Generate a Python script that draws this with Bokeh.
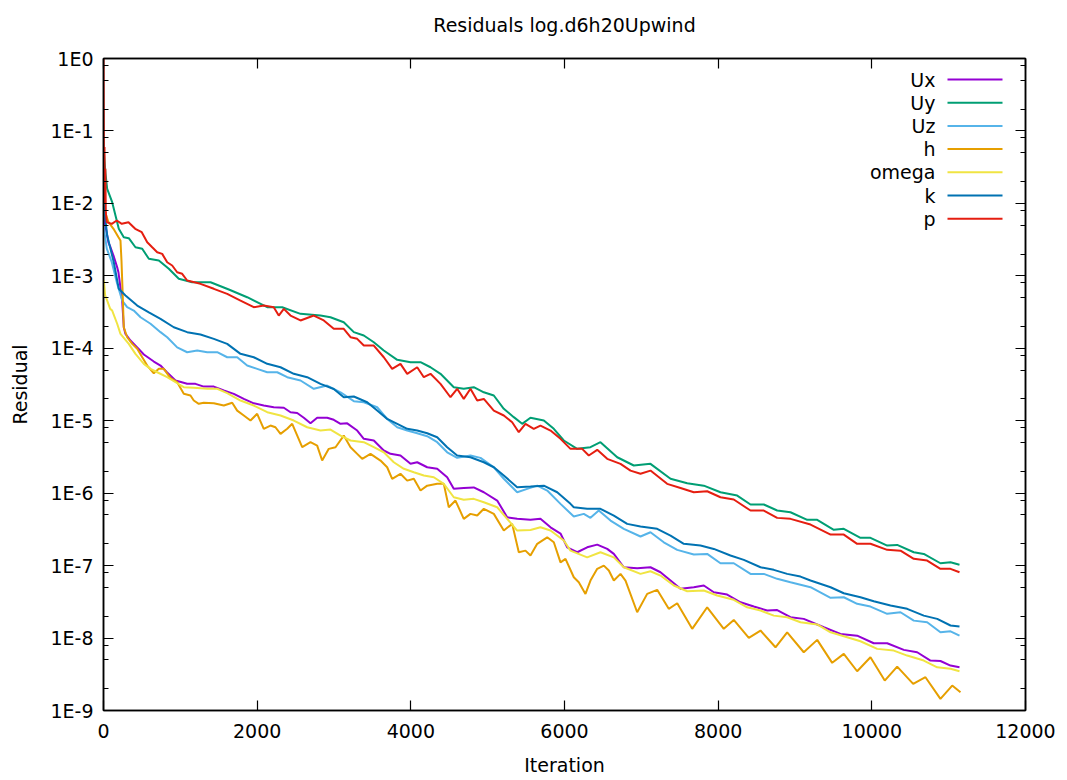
from bokeh.plotting import figure
from bokeh.models import (Range1d, FixedTicker, LinearAxis, LogAxis,
                          CustomJSTickFormatter, Label, BoxAnnotation)
from bokeh.embed import file_html
from bokeh.resources import INLINE

FONT = "DejaVu Sans"
FS = "19px"

title_text = "Residuals log.d6h20Upwind"
x_label = "Iteration"
y_label = "Residual"
x_ticks = [0, 2000, 4000, 6000, 8000, 10000, 12000]
y_ticks = [1.0, 1e-1, 1e-2, 1e-3, 1e-4, 1e-5, 1e-6, 1e-7, 1e-8, 1e-9]
y_tick_labels = ["1E0", "1E-1", "1E-2", "1E-3", "1E-4", "1E-5", "1E-6", "1E-7", "1E-8", "1E-9"]
y_minor_mantissas = [2, 5, 8]
series_names = ["Ux", "Uy", "Uz", "h", "omega", "k", "p"]
series_colors = ["#9400d3", "#009e73", "#56b4e9", "#e69f00", "#f0e442", "#0072b2", "#e51e10"]

# (iteration, residual) pairs
ux = [(0, 6.8e-3), (65, 2.88e-3), (91, 2.48e-3), (130, 1.91e-3), (178, 1.31e-3), (195, 1.11e-3),
      (243, 4.56e-4), (264, 1.95e-4), (286, 1.58e-4), (351, 1.28e-4), (439, 1.03e-4), (525, 8.2e-5),
      (655, 6.56e-5), (742, 5.78e-5), (829, 4.63e-5), (937, 3.59e-5), (1089, 3.23e-5), (1197, 3.23e-5),
      (1305, 2.96e-5), (1436, 2.96e-5), (1566, 2.61e-5), (1696, 2.35e-5), (1826, 2.0e-5), (1956, 1.74e-5),
      (2086, 1.62e-5), (2216, 1.535e-5), (2347, 1.51e-5), (2434, 1.31e-5), (2521, 1.28e-5), (2607, 1.1e-5),
      (2694, 9.23e-6), (2781, 1.1e-5), (2911, 1.1e-5), (2997, 1.03e-5), (3085, 9.06e-6), (3172, 9.2e-6),
      (3302, 7.32e-6), (3388, 5.62e-6), (3518, 5.33e-6), (3648, 3.88e-6), (3735, 3.49e-6), (3865, 3.31e-6),
      (3996, 2.54e-6), (4083, 2.67e-6), (4213, 2.28e-6), (4343, 2.17e-6), (4473, 1.66e-6), (4559, 1.147e-6),
      (4689, 1.18e-6), (4819, 1.2e-6), (4950, 1.03e-6), (5124, 7.91e-7), (5254, 4.65e-7), (5384, 4.42e-7),
      (5557, 4.28e-7), (5687, 4.42e-7), (5818, 3.38e-7), (5948, 2.77e-7), (6035, 1.79e-7), (6165, 1.53e-7),
      (6295, 1.79e-7), (6426, 1.95e-7), (6556, 1.7e-7), (6642, 1.45e-7), (6772, 9.49e-8), (6946, 9.19e-8),
      (7119, 9.49e-8), (7249, 8.1e-8), (7380, 6.22e-8), (7510, 4.78e-8), (7683, 5.03e-8), (7813, 5.31e-8),
      (7943, 4.29e-8), (8117, 3.99e-8), (8291, 3.12e-8), (8464, 2.72e-8), (8638, 2.4e-8), (8768, 2.43e-8),
      (8941, 1.94e-8), (9114, 1.84e-8), (9375, 1.41e-8), (9592, 1.14e-8), (9809, 1.08e-8), (10025, 8.48e-9),
      (10200, 8.48e-9), (10416, 6.87e-9), (10590, 6.37e-9), (10763, 4.89e-9), (10893, 4.82e-9),
      (11024, 4.17e-9), (11141, 3.95e-9)]

uy = [(0, 0.06), (26, 0.0258), (48, 0.0159), (113, 0.0104), (156, 0.0068), (199, 0.00446), (264, 0.00341),
      (329, 0.00331), (416, 0.00248), (504, 0.00236), (590, 0.00172), (720, 0.00163), (850, 0.00125),
      (980, 0.00091), (1154, 8.16e-4), (1393, 8.16e-4), (1631, 6.47e-4), (1870, 5.07e-4), (2131, 3.69e-4),
      (2326, 3.69e-4), (2564, 2.99e-4), (2824, 2.83e-4), (2954, 2.68e-4), (3127, 2.29e-4), (3258, 1.67e-4),
      (3388, 1.5e-4), (3518, 1.21e-4), (3648, 9.31e-5), (3823, 6.93e-5), (3996, 6.42e-5), (4126, 6.42e-5),
      (4256, 5.47e-5), (4386, 4.44e-5), (4559, 2.9e-5), (4689, 2.76e-5), (4819, 2.9e-5), (4950, 2.47e-5),
      (5080, 2.23e-5), (5210, 1.46e-5), (5340, 1.12e-5), (5449, 9.06e-6), (5557, 1.1e-5), (5731, 1.006e-5),
      (5861, 7.73e-6), (5991, 5.33e-6), (6165, 4.09e-6), (6338, 4.31e-6), (6468, 5.05e-6), (6686, 3.13e-6),
      (6902, 2.41e-6), (7119, 2.54e-6), (7380, 1.58e-6), (7597, 1.37e-6), (7813, 1.27e-6), (8030, 1.03e-6),
      (8248, 9.27e-7), (8421, 6.97e-7), (8594, 6.97e-7), (8768, 5.76e-7), (8941, 5.45e-7), (9159, 4.28e-7),
      (9289, 4.28e-7), (9505, 3.12e-7), (9635, 3.22e-7), (9852, 2.42e-7), (9982, 2.42e-7), (10200, 1.89e-7),
      (10330, 1.93e-7), (10546, 1.53e-7), (10676, 1.45e-7), (10893, 1.078e-7), (11024, 1.11e-7),
      (11141, 1.03e-7)]

uz = [(0, 4.95e-3), (43, 2.38e-3), (108, 1.54e-3), (178, 7.76e-4), (243, 4.56e-4), (308, 3.69e-4),
      (394, 3.32e-4), (482, 2.68e-4), (612, 2.18e-4), (742, 1.67e-4), (829, 1.42e-4), (959, 1.03e-4),
      (1089, 8.82e-5), (1220, 9.31e-5), (1350, 8.82e-5), (1480, 8.82e-5), (1610, 7.52e-5), (1740, 7.52e-5),
      (1870, 5.78e-5), (2000, 5.2e-5), (2131, 4.67e-5), (2261, 4.67e-5), (2391, 3.99e-5), (2564, 3.59e-5),
      (2737, 2.76e-5), (2911, 3.06e-5), (3085, 2.47e-5), (3258, 1.86e-5), (3388, 1.8e-5), (3562, 1.535e-5),
      (3692, 1.06e-5), (3823, 8.13e-6), (3953, 7.32e-6), (4083, 6.72e-6), (4213, 6.11e-6), (4343, 5.05e-6),
      (4473, 3.67e-6), (4603, 3.07e-6), (4776, 3.31e-6), (4907, 3.07e-6), (5080, 2.28e-6), (5210, 1.58e-6),
      (5384, 1.03e-6), (5515, 1.147e-6), (5645, 1.27e-6), (5775, 1.087e-6), (5948, 7.12e-7), (6121, 4.76e-7),
      (6251, 5.18e-7), (6338, 4.56e-7), (6446, 5.76e-7), (6599, 4.19e-7), (6772, 3.22e-7), (6989, 2.52e-7),
      (7119, 2.89e-7), (7292, 2.1e-7), (7467, 1.65e-7), (7683, 1.42e-7), (7857, 1.45e-7), (8030, 1.078e-7),
      (8203, 1.078e-7), (8421, 7.69e-8), (8594, 7.69e-8), (8768, 6.57e-8), (8941, 5.89e-8), (9202, 5.03e-8),
      (9463, 3.59e-8), (9635, 3.66e-8), (9809, 2.97e-8), (9982, 2.72e-8), (10200, 2.16e-8), (10373, 2.27e-8),
      (10546, 1.74e-8), (10720, 1.65e-8), (10893, 1.2e-8), (11024, 1.24e-8), (11141, 1.08e-8)]

h = [(22, 7.55e-3), (65, 5.5e-3), (130, 4.46e-3), (195, 3.41e-3), (221, 3.07e-3), (234, 1.63e-3),
     (247, 6.68e-4), (264, 1.95e-4), (308, 1.42e-4), (374, 1.15e-4), (439, 9.83e-5), (504, 7.52e-5),
     (569, 5.78e-5), (655, 4.52e-5), (720, 5.2e-5), (785, 5.2e-5), (872, 3.88e-5), (959, 3.4e-5),
     (1045, 2.35e-5), (1132, 2.23e-5), (1175, 1.9e-5), (1240, 1.71e-5), (1305, 1.77e-5), (1436, 1.74e-5),
     (1566, 1.62e-5), (1675, 1.77e-5), (1740, 1.38e-5), (1826, 1.18e-5), (1913, 1.006e-5), (2000, 1.245e-5),
     (2086, 7.73e-6), (2173, 8.58e-6), (2238, 8.13e-6), (2304, 6.59e-6), (2391, 7.73e-6), (2456, 9.06e-6),
     (2586, 4.31e-6), (2694, 5.05e-6), (2781, 4.54e-6), (2846, 2.82e-6), (2932, 4.09e-6), (3020, 4.31e-6),
     (3127, 6.24e-6), (3215, 4.31e-6), (3302, 3.49e-6), (3367, 2.98e-6), (3475, 3.49e-6), (3605, 2.82e-6),
     (3692, 2.28e-6), (3757, 1.58e-6), (3865, 1.85e-6), (3953, 1.49e-6), (4039, 1.58e-6), (4126, 1.087e-6),
     (4213, 1.27e-6), (4343, 1.345e-6), (4429, 1.345e-6), (4494, 6.39e-7), (4581, 7.91e-7), (4689, 4.42e-7),
     (4776, 5.18e-7), (4864, 4.91e-7), (4950, 6.08e-7), (5080, 5.18e-7), (5210, 3.05e-7), (5319, 3.77e-7),
     (5405, 1.53e-7), (5492, 1.61e-7), (5557, 1.38e-7), (5645, 2.0e-7), (5775, 2.46e-7), (5861, 2.1e-7),
     (5948, 1.11e-7), (6013, 1.24e-7), (6121, 6.91e-8), (6186, 5.89e-8), (6273, 4.07e-8), (6338, 6.22e-8),
     (6426, 9.02e-8), (6512, 1.0e-7), (6577, 8.55e-8), (6642, 6.22e-8), (6729, 7.69e-8), (6794, 6.22e-8),
     (6946, 2.27e-8), (7076, 4.07e-8), (7206, 4.63e-8), (7357, 2.53e-8), (7467, 3.02e-8), (7662, 1.34e-8),
     (7857, 2.66e-8), (8073, 1.34e-8), (8203, 1.78e-8), (8399, 1.006e-8), (8551, 1.27e-8), (8746, 7.46e-9),
     (8898, 1.2e-8), (9114, 6.37e-9), (9289, 9.44e-9), (9484, 4.55e-9), (9635, 6.05e-9), (9809, 3.48e-9),
     (9982, 5.43e-9), (10168, 2.59e-9), (10330, 4.04e-9), (10538, 2.33e-9), (10698, 2.88e-9),
     (10893, 1.45e-9), (11046, 2.21e-9), (11154, 1.79e-9)]

omega = [(4, 8.62e-4), (22, 5.35e-4), (48, 4.56e-4), (87, 3.5e-4), (113, 3.32e-4), (178, 2.18e-4),
         (221, 1.58e-4), (329, 1.15e-4), (416, 8.38e-5), (525, 6.1e-5), (612, 5.2e-5), (699, 4.67e-5),
         (829, 3.99e-5), (959, 3.29e-5), (1045, 2.9e-5), (1175, 2.86e-5), (1350, 2.76e-5), (1480, 2.76e-5),
         (1610, 2.41e-5), (1783, 1.9e-5), (1956, 1.62e-5), (2131, 1.31e-5), (2304, 1.18e-5), (2477, 1.006e-5),
         (2651, 8.13e-6), (2824, 7.32e-6), (2954, 7.55e-6), (3085, 6.24e-6), (3215, 5.33e-6), (3388, 5.05e-6),
         (3518, 4.31e-6), (3648, 3.67e-6), (3778, 2.67e-6), (3909, 2.17e-6), (4039, 1.945e-6), (4169, 1.75e-6),
         (4299, 1.66e-6), (4429, 1.345e-6), (4559, 8.79e-7), (4689, 8.09e-7), (4819, 8.35e-7), (4950, 7.49e-7),
         (5124, 6.39e-7), (5254, 4.42e-7), (5384, 3.05e-7), (5557, 3.1e-7), (5687, 3.38e-7), (5818, 3.05e-7),
         (5991, 2.22e-7), (6078, 1.61e-7), (6295, 1.3e-7), (6468, 1.53e-7), (6642, 1.3e-7), (6772, 9.49e-8),
         (6989, 7.69e-8), (7119, 8.36e-8), (7249, 7.29e-8), (7423, 5.31e-8), (7597, 4.43e-8), (7813, 4.53e-8),
         (7987, 3.86e-8), (8203, 3.37e-8), (8378, 2.66e-8), (8551, 2.4e-8), (8724, 2.04e-8), (8898, 1.94e-8),
         (9071, 1.65e-8), (9289, 1.54e-8), (9463, 1.2e-8), (9679, 1.026e-8), (9852, 9.03e-9), (10070, 7.09e-9),
         (10286, 6.72e-9), (10460, 5.73e-9), (10676, 4.89e-9), (10851, 3.95e-9), (11024, 3.76e-9),
         (11141, 3.48e-9)]

k = [(0, 0.0104), (48, 0.0036), (134, 0.00154), (199, 6.62e-4), (286, 5.35e-4), (439, 3.89e-4),
     (590, 3.12e-4), (742, 2.55e-4), (915, 1.95e-4), (1089, 1.67e-4), (1262, 1.55e-4), (1436, 1.35e-4),
     (1610, 1.15e-4), (1783, 8.38e-5), (1956, 7.52e-5), (2131, 6.1e-5), (2304, 5.47e-5), (2477, 4.44e-5),
     (2651, 3.99e-5), (2824, 3.23e-5), (2997, 2.74e-5), (3127, 2.11e-5), (3258, 2.16e-5), (3432, 1.8e-5),
     (3562, 1.38e-5), (3692, 1.06e-5), (3823, 9.06e-6), (3953, 7.73e-6), (4083, 7.32e-6), (4213, 6.72e-6),
     (4343, 5.92e-6), (4473, 4.31e-6), (4603, 3.31e-6), (4776, 3.13e-6), (4950, 2.67e-6), (5080, 2.28e-6),
     (5210, 1.75e-6), (5384, 1.21e-6), (5557, 1.234e-6), (5731, 1.27e-6), (5905, 1.03e-6), (6078, 7.12e-7),
     (6121, 6.39e-7), (6295, 6.08e-7), (6468, 6.08e-7), (6642, 4.91e-7), (6816, 3.77e-7), (6989, 3.46e-7),
     (7206, 3.22e-7), (7380, 2.6e-7), (7553, 2.0e-7), (7770, 1.89e-7), (7943, 1.7e-7), (8160, 1.38e-7),
     (8334, 1.2e-7), (8551, 9.49e-8), (8724, 8.74e-8), (8898, 7.69e-8), (9071, 7.06e-8), (9202, 6.22e-8),
     (9463, 5.03e-8), (9635, 4.15e-8), (9852, 3.66e-8), (10025, 3.22e-8), (10243, 2.81e-8), (10460, 2.53e-8),
     (10676, 2.04e-8), (10851, 1.84e-8), (11024, 1.49e-8), (11141, 1.44e-8)]

p_res = [(0, 1.0), (3, 0.16), (8, 0.012), (13, 0.06), (18, 0.01), (24, 0.03), (30, 0.0075), (43, 0.0055),
         (108, 0.00522), (173, 0.0058), (238, 0.00522), (325, 0.0055), (413, 0.00446), (498, 0.004),
         (569, 0.00291), (634, 0.00248), (699, 0.00212), (764, 0.00201), (829, 0.00154), (894, 0.00139),
         (959, 0.00112), (1024, 1.066e-3), (1089, 8.62e-4), (1262, 7.76e-4), (1436, 6.62e-4), (1610, 5.64e-4),
         (1783, 4.56e-4), (1956, 3.69e-4), (2086, 3.89e-4), (2216, 3.69e-4), (2281, 2.83e-4), (2347, 3.5e-4),
         (2434, 2.83e-4), (2564, 2.42e-4), (2737, 2.83e-4), (2867, 2.42e-4), (2997, 1.86e-4), (3127, 1.86e-4),
         (3215, 1.42e-4), (3302, 1.35e-4), (3388, 1.09e-4), (3518, 1.09e-4), (3648, 7.52e-5), (3757, 5.2e-5),
         (3865, 6.1e-5), (3953, 4.44e-5), (4083, 5.47e-5), (4169, 3.99e-5), (4256, 4.44e-5), (4386, 3.23e-5),
         (4516, 2.11e-5), (4603, 2.76e-5), (4689, 2.0e-5), (4776, 2.76e-5), (4864, 1.9e-5), (4950, 2.0e-5),
         (5080, 1.38e-5), (5210, 1.18e-5), (5319, 9.53e-6), (5405, 6.94e-6), (5492, 9.06e-6), (5600, 7.73e-6),
         (5687, 8.58e-6), (5818, 7.32e-6), (5948, 5.62e-6), (6078, 4.09e-6), (6230, 4.09e-6), (6316, 3.31e-6),
         (6426, 3.96e-6), (6556, 2.98e-6), (6729, 2.54e-6), (6859, 2.05e-6), (6989, 1.85e-6), (7119, 2.05e-6),
         (7336, 1.345e-6), (7510, 1.18e-6), (7683, 1.03e-6), (7857, 1.063e-6), (8030, 8.79e-7), (8203, 8.17e-7),
         (8421, 5.76e-7), (8594, 5.76e-7), (8768, 4.56e-7), (8941, 4.42e-7), (9202, 3.69e-7), (9463, 2.68e-7),
         (9635, 2.68e-7), (9809, 2.0e-7), (9982, 2.0e-7), (10200, 1.65e-7), (10373, 1.61e-7), (10546, 1.24e-7),
         (10720, 1.175e-7), (10893, 9.02e-8), (11024, 9.02e-8), (11141, 8.1e-8)]

series_data = [ux, uy, uz, h, omega, k, p_res]

# ---------------------------------------------------------------- figure
p = figure(width=1067, height=780, x_range=Range1d(0, 12000), y_range=Range1d(1e-9, 1.0),
           y_axis_type="log", output_backend="svg", toolbar_location=None,
           min_border_left=103, min_border_right=42, min_border_top=58, min_border_bottom=70)
p.background_fill_color = "white"
p.border_fill_color = "white"
p.outline_line_color = "black"
p.outline_line_width = 1.5
p.xgrid.visible = False
p.ygrid.visible = False

y_formatter = CustomJSTickFormatter(args=dict(labels=y_tick_labels),
                                    code="return labels[Math.round(-Math.log10(tick))];")
blank_formatter = CustomJSTickFormatter(code="return '';")
y_minor = [m * 10.0 ** -e for e in range(1, 10) for m in y_minor_mantissas]


def style_axis(ax):
    ax.axis_line_color = "black"
    ax.axis_line_width = 1.5
    ax.major_tick_in = 10
    ax.major_tick_out = 0
    ax.minor_tick_in = 5
    ax.minor_tick_out = 0
    ax.major_tick_line_color = "black"
    ax.minor_tick_line_color = "black"
    ax.major_tick_line_width = 1.2
    ax.minor_tick_line_width = 1.2
    ax.major_label_text_font = FONT
    ax.major_label_text_font_size = FS
    ax.major_label_text_color = "black"
    ax.axis_label_text_font = FONT
    ax.axis_label_text_font_size = FS
    ax.axis_label_text_font_style = "normal"
    ax.axis_label_text_color = "black"


xa = p.xaxis[0]
xa.ticker = FixedTicker(ticks=x_ticks, minor_ticks=[])
style_axis(xa)
xa.axis_label = x_label
xa.major_label_standoff = 13
xa.axis_label_standoff = 13

ya = p.yaxis[0]
ya.ticker = FixedTicker(ticks=y_ticks, minor_ticks=y_minor)
ya.formatter = y_formatter
style_axis(ya)
ya.axis_label = y_label
ya.major_label_standoff = 10
ya.axis_label_standoff = 16

# top edge: mirrored tick marks (no tick labels); the chart title sits above it
top = LinearAxis(ticker=FixedTicker(ticks=x_ticks, minor_ticks=[]), formatter=blank_formatter)
style_axis(top)
top.major_label_text_font_size = "1px"
top.major_label_text_color = None
top.major_label_standoff = 0
top.axis_label = title_text
top.axis_label_standoff = 23
p.add_layout(top, "above")

right = LogAxis(ticker=FixedTicker(ticks=y_ticks, minor_ticks=y_minor), formatter=blank_formatter)
style_axis(right)
right.major_label_text_font_size = "1px"
right.major_label_text_color = None
right.major_label_standoff = 0
p.add_layout(right, "right")

for name, data, color in zip(series_names, series_data, series_colors):
    xs = [d[0] for d in data]
    ys = [d[1] for d in data]
    p.line(xs, ys, line_color=color, line_width=2)

# legend in gnuplot style: label then line sample (frame screen units)
leg_text_right = 832
leg_line_left = 844
leg_line_right = 899
leg_top = 631
leg_step = 23.2
for i, (name, color) in enumerate(zip(series_names, series_colors)):
    yc = leg_top - i * leg_step
    p.add_layout(Label(x=leg_text_right, y=yc, x_units="screen", y_units="screen", text=name,
                       text_align="right", text_baseline="middle", text_font=FONT,
                       text_font_size=FS, text_color="black"))
    p.add_layout(BoxAnnotation(left=leg_line_left, right=leg_line_right, bottom=yc - 1.0, top=yc + 1.0,
                               left_units="screen", right_units="screen", bottom_units="screen",
                               top_units="screen", fill_color=color, fill_alpha=1.0,
                               line_alpha=0.0))

open("out.html", "w").write(file_html(p, INLINE))
